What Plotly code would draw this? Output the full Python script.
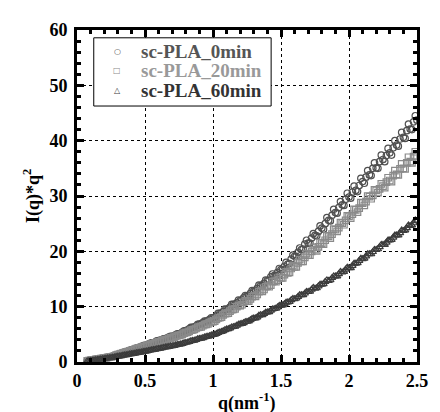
import plotly.graph_objects as go

# scattering vector q (nm^-1): main grid and the in-between readings
q = [0.075, 0.1, 0.125, 0.15, 0.175, 0.2, 0.225, 0.25,
     0.275, 0.3, 0.325, 0.35, 0.375, 0.4, 0.425, 0.45, 0.475, 0.5,
     0.525, 0.55, 0.575, 0.6, 0.625, 0.65, 0.675, 0.7, 0.725, 0.75,
     0.775, 0.8, 0.825, 0.85, 0.875, 0.9, 0.925, 0.95, 0.975, 1.0,
     1.025, 1.05, 1.075, 1.1, 1.125, 1.15, 1.175, 1.2, 1.225, 1.25,
     1.275, 1.3, 1.325, 1.35, 1.375, 1.4, 1.425, 1.45, 1.475, 1.5,
     1.525, 1.55, 1.575, 1.6, 1.625, 1.65, 1.675, 1.7, 1.725, 1.75,
     1.775, 1.8, 1.825, 1.85, 1.875, 1.9, 1.925, 1.95, 1.975, 2.0,
     2.025, 2.05, 2.075, 2.1, 2.125, 2.15, 2.175, 2.2, 2.225, 2.25,
     2.275, 2.3, 2.325, 2.35, 2.375, 2.4, 2.425, 2.45, 2.475, 2.5]
q_mid = [0.0875, 0.1125, 0.1375, 0.1625, 0.1875, 0.2125, 0.2375,
         0.2625, 0.2875, 0.3125, 0.3375, 0.3625, 0.3875, 0.4125, 0.4375, 0.4625, 0.4875,
         0.5125, 0.5375, 0.5625, 0.5875, 0.6125, 0.6375, 0.6625, 0.6875, 0.7125, 0.7375,
         0.7625, 0.7875, 0.8125, 0.8375, 0.8625, 0.8875, 0.9125, 0.9375, 0.9625, 0.9875,
         1.0125, 1.0375, 1.0625, 1.0875, 1.1125, 1.1375, 1.1625, 1.1875, 1.2125, 1.2375,
         1.2625, 1.2875, 1.3125, 1.3375, 1.3625, 1.3875, 1.4125, 1.4375, 1.4625, 1.4875,
         1.5125, 1.5375, 1.5625, 1.5875, 1.6125, 1.6375, 1.6625, 1.6875, 1.7125, 1.7375,
         1.7625, 1.7875, 1.8125, 1.8375, 1.8625, 1.8875, 1.9125, 1.9375, 1.9625, 1.9875,
         2.0125, 2.0375, 2.0625, 2.0875, 2.1125, 2.1375, 2.1625, 2.1875, 2.2125, 2.2375,
         2.2625, 2.2875, 2.3125, 2.3375, 2.3625, 2.3875, 2.4125, 2.4375, 2.4625, 2.4875]

# I(q)*q^2 for each annealing time
iq_0min = [0.22, 0.31, 0.42, 0.52, 0.63, 0.72, 0.85, 0.95,
           1.15, 1.37, 1.55, 1.78, 1.97, 2.18, 2.36, 2.6, 2.78, 3.0,
           3.2, 3.44, 3.6, 3.85, 4.05, 4.22, 4.48, 4.65, 4.9, 5.1,
           5.4, 5.66, 6.0, 6.25, 6.5, 6.85, 7.1, 7.4, 7.7, 8.0,
           8.35, 8.8, 9.1, 9.5, 9.9, 10.4, 10.7, 11.1, 11.6, 11.9,
           12.4, 12.8, 13.3, 13.8, 14.2, 14.7, 15.4, 15.6, 16.2, 16.7,
           17.3, 17.7, 18.6, 19.1, 19.8, 20.3, 21.3, 21.5, 22.4, 22.9,
           23.6, 24.2, 25.0, 25.6, 26.5, 27.0, 27.9, 28.4, 29.4, 29.8,
           30.7, 31.0, 31.9, 32.6, 33.4, 33.8, 35.0, 35.1, 36.2, 36.6,
           37.3, 37.8, 38.7, 39.2, 40.3, 40.6, 41.8, 42.1, 43.4, 43.7]
iq_0min_mid = [0.28, 0.35, 0.49, 0.56, 0.70, 0.77, 0.92,
               1.03, 1.29, 1.44, 1.70, 1.85, 2.12, 2.25, 2.53, 2.66, 2.95,
               3.06, 3.38, 3.48, 3.8, 3.9, 4.2, 4.3, 4.65, 4.7, 5.1,
               5.18, 5.65, 5.75, 6.25, 6.3, 6.8, 6.9, 7.4, 7.45, 8.0,
               8.05, 8.8, 8.8, 9.55, 9.55, 10.4, 10.4, 11.2, 11.2, 12.0,
               11.9, 12.9, 12.8, 13.9, 13.8, 14.8, 14.8, 15.9, 15.6, 16.9,
               16.7, 18.0, 17.8, 19.3, 19.1, 20.6, 20.4, 22.0, 21.5, 23.2,
               22.8, 24.6, 24.0, 26.1, 25.5, 27.6, 26.9, 29.0, 28.3, 30.5,
               29.6, 31.8, 30.8, 33.2, 32.3, 34.6, 33.7, 36.0, 35.0, 37.4,
               36.2, 38.6, 37.4, 40.0, 39.0, 41.5, 40.4, 43.0, 42.0, 44.5]
iq_20min = [0.2, 0.3, 0.41, 0.5, 0.62, 0.71, 0.83, 0.92,
            1.1, 1.32, 1.5, 1.7, 1.9, 2.08, 2.3, 2.46, 2.68, 2.85,
            3.05, 3.22, 3.45, 3.62, 3.85, 4.0, 4.25, 4.4, 4.65, 4.8,
            5.05, 5.3, 5.55, 5.82, 6.05, 6.3, 6.55, 6.8, 7.1, 7.3,
            7.7, 8.0, 8.5, 8.8, 9.2, 9.5, 10.0, 10.2, 10.8, 11.0,
            11.4, 11.9, 12.2, 12.8, 13.1, 13.7, 13.9, 14.6, 14.8, 15.2,
            15.8, 16.1, 16.9, 17.2, 17.9, 18.2, 18.9, 19.3, 20.0, 20.3,
            20.8, 21.5, 22.0, 22.7, 23.1, 23.9, 24.3, 25.1, 25.6, 26.3,
            26.7, 27.5, 27.8, 28.7, 29.0, 29.9, 30.1, 31.0, 31.3, 31.8,
            32.5, 32.8, 33.7, 33.9, 34.9, 35.0, 36.0, 36.2, 37.1, 37.3]
iq_20min_mid = [0.26, 0.35, 0.46, 0.55, 0.67, 0.76, 0.89,
                0.99, 1.23, 1.39, 1.62, 1.78, 2.02, 2.17, 2.41, 2.55, 2.80,
                2.93, 3.17, 3.3, 3.57, 3.7, 3.96, 4.08, 4.36, 4.48, 4.77,
                4.88, 5.22, 5.38, 5.74, 5.88, 6.24, 6.36, 6.74, 6.88, 7.3,
                7.4, 7.95, 8.1, 8.75, 8.85, 9.45, 9.6, 10.25, 10.35, 11.05,
                11.0, 11.8, 11.85, 12.7, 12.75, 13.6, 13.6, 14.5, 14.5, 15.3,
                15.2, 16.3, 16.2, 17.4, 17.2, 18.5, 18.2, 19.6, 19.3, 20.7,
                20.1, 21.6, 21.3, 22.8, 22.4, 24.0, 23.6, 25.2, 24.8, 26.4,
                26.0, 27.6, 27.1, 28.8, 28.3, 30.0, 29.5, 31.1, 30.6, 32.2,
                31.5, 33.3, 32.6, 34.6, 33.8, 35.8, 34.9, 37.0, 36.0, 38.0]
iq_60min = [0.15, 0.24, 0.33, 0.42, 0.51, 0.6, 0.69, 0.78,
            0.88, 1.0, 1.1, 1.22, 1.33, 1.45, 1.55, 1.68, 1.78, 1.9,
            2.02, 2.16, 2.27, 2.4, 2.52, 2.66, 2.77, 2.9, 3.02, 3.15,
            3.3, 3.5, 3.66, 3.85, 4.0, 4.2, 4.35, 4.55, 4.7, 4.9,
            5.12, 5.4, 5.6, 5.9, 6.1, 6.35, 6.6, 6.85, 7.05, 7.3,
            7.6, 7.9, 8.1, 8.5, 8.7, 9.0, 9.3, 9.6, 9.9, 10.2,
            10.5, 10.8, 11.2, 11.4, 11.8, 12.1, 12.4, 12.7, 13.1, 13.3,
            13.7, 14.0, 14.5, 14.7, 15.2, 15.5, 15.9, 16.2, 16.7, 17.0,
            17.4, 17.8, 18.3, 18.6, 19.1, 19.5, 19.9, 20.3, 20.8, 21.2,
            21.6, 22.0, 22.5, 22.9, 23.3, 23.7, 24.2, 24.6, 25.1, 25.5]
iq_60min_mid = [0.2, 0.28, 0.38, 0.46, 0.56, 0.64, 0.74,
                0.82, 0.95, 1.04, 1.17, 1.26, 1.40, 1.49, 1.63, 1.72, 1.85,
                1.95, 2.1, 2.2, 2.35, 2.44, 2.6, 2.7, 2.85, 2.94, 3.1,
                3.2, 3.42, 3.55, 3.78, 3.9, 4.14, 4.25, 4.48, 4.6, 4.84,
                4.97, 5.3, 5.45, 5.8, 5.95, 6.3, 6.4, 6.8, 6.9, 7.25,
                7.35, 7.82, 7.9, 8.4, 8.5, 8.95, 9.05, 9.55, 9.65, 10.15,
                10.25, 10.75, 10.9, 11.45, 11.5, 12.1, 12.1, 12.7, 12.75, 13.4,
                13.35, 14.0, 14.1, 14.8, 14.8, 15.5, 15.5, 16.3, 16.3, 17.1,
                17.0, 17.8, 17.9, 18.7, 18.7, 19.5, 19.5, 20.3, 20.4, 21.2,
                21.2, 22.0, 22.1, 22.9, 22.9, 23.8, 23.8, 24.7, 24.7, 25.6]

assert len(q) == len(iq_0min) == len(iq_20min) == len(iq_60min)
assert len(q_mid) == len(iq_0min_mid) == len(iq_20min_mid) == len(iq_60min_mid)

names = ['sc-PLA_0min', 'sc-PLA_20min', 'sc-PLA_60min']
serif = 'Liberation Serif'

# (values, in-between values, marker symbol, marker colour, legend glyph, text colour)
styles = [(iq_0min, iq_0min_mid, 'circle-open', '#505050', '\u25cb', '#555555'),
          (iq_20min, iq_20min_mid, 'square-open', '#8a8a8a', '\u25a1', '#999999'),
          (iq_60min, iq_60min_mid, 'triangle-up-open', '#3c3c3c', '\u25b3', '#333333')]

fig = go.Figure()
for name, (vals, mids, sym, col, glyph, tcol) in zip(names, styles):
    fig.add_trace(go.Scatter(
        x=q + q_mid, y=vals + mids, mode='markers', name=name, showlegend=False,
        marker=dict(symbol=sym, size=6.5, color=col, line=dict(width=1.2, color=col))
    ))

axis_common = dict(
    showline=True, linewidth=3, linecolor='black', mirror='ticks',
    ticks='inside', ticklen=7, tickwidth=3, tickcolor='black',
    showgrid=True, gridcolor='black', gridwidth=1, griddash='dot',
    zeroline=False,
    tickfont=dict(family=serif, size=18, color='black', weight='bold'),
)

fig.update_xaxes(range=[0, 2.5], tickvals=[0, 0.5, 1, 1.5, 2, 2.5],
                 ticktext=['0', '0.5', '1', '1.5', '2', '2.5'],
                 minor=dict(dtick=0.1, ticks='inside', ticklen=4, tickwidth=2.5,
                            tickcolor='black', showgrid=False),
                 ticklabelstandoff=0, **axis_common)
fig.update_yaxes(range=[0, 60], dtick=10,
                 minor=dict(dtick=2, ticks='inside', ticklen=4, tickwidth=2.5,
                            tickcolor='black', showgrid=False),
                 ticklabelstandoff=3, **axis_common)

# legend box drawn by hand (frame + one line per series)
anns = [
    dict(text='<b>q(nm<sup>-1</sup>)</b>', xref='paper', yref='paper',
         x=0.5, y=0, yanchor='middle', yshift=-40, showarrow=False,
         font=dict(family=serif, size=18, color='black')),
    dict(text='<b>I(q)*q<sup>2</sup></b>', xref='paper', yref='paper',
         x=0, y=0.5, xanchor='center', xshift=-45, textangle=-90,
         showarrow=False, font=dict(family=serif, size=18, color='black')),
]
row_y = [0.9355, 0.877, 0.818]
for name, (vals, mids, sym, col, glyph, tcol), yy in zip(names, styles, row_y):
    anns.append(dict(text=glyph, xref='paper', yref='paper', x=0.119, y=yy,
                     xanchor='center', yanchor='middle', showarrow=False,
                     font=dict(family='DejaVu Sans', size=8, color=col)))
    anns.append(dict(text='<b>%s</b>' % name, xref='paper', yref='paper',
                     x=0.1826, y=yy, xanchor='left', yanchor='middle',
                     showarrow=False,
                     font=dict(family=serif, size=19, color=tcol)))

fig.update_layout(
    width=432, height=404,
    margin=dict(l=69, r=18, t=13, b=50),
    plot_bgcolor='white', paper_bgcolor='white',
    showlegend=False,
    shapes=[dict(type='rect', xref='paper', yref='paper',
                 x0=0.0493, x1=0.571, y0=0.771, y1=0.9765,
                 line=dict(color='black', width=1), fillcolor='white',
                 layer='above')],
    annotations=anns,
)

fig.write_html("out.html")
